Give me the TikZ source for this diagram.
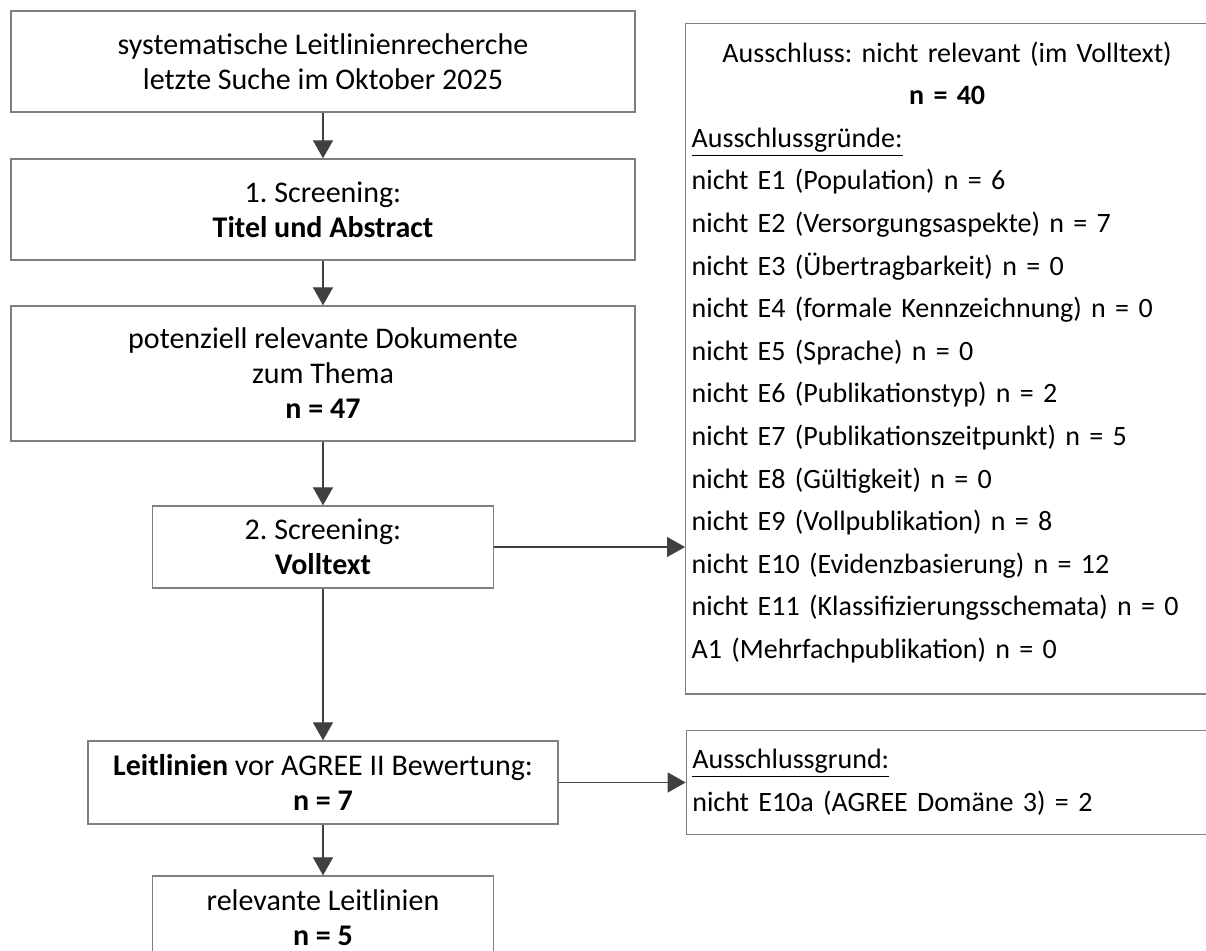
\documentclass[tikz,border=0pt]{standalone}
\usepackage{fontspec}
\setmainfont{Carlito}
\usetikzlibrary{shapes,arrows.meta,positioning}
\definecolor{boxgray}{HTML}{7F7F7F}
\definecolor{arrowgray}{HTML}{404040}
\tikzstyle{block} = [rectangle, draw=boxgray, line width=0.65pt,
    align=center, minimum width=312pt]
\tikzstyle{smallblock} = [rectangle, draw=boxgray, line width=0.65pt,
    align=center, minimum width=170.5pt, minimum height=41.5pt]
\tikzstyle{reasonbox} = [rectangle, draw=boxgray, line width=0.65pt,
    text width=255.5pt, inner xsep=3pt, font=\fontsize{14}{21.3}\selectfont]
\tikzstyle{line} = [draw=arrowgray, line width=0.65pt, -{Triangle[length=9pt,width=10pt]}]

\begin{document}
\frenchspacing
\begin{tikzpicture}[node distance = 70pt, font=\fontsize{15}{17.5}\selectfont]
    \useasboundingbox (-161.5pt,30.75pt) rectangle (441.5pt,-444.75pt);
    % Place nodes
    \node [block, minimum height=50.5pt] (init) {systematische Leitlinienrecherche\\letzte Suche im Oktober 2025};
    \node [block, below of=init, node distance=74pt, minimum height=50.5pt] (screen1) {1. Screening:\\\textbf{Titel und Abstract}};
    \node [block, below of=screen1, node distance=82pt, minimum height=67.5pt] (candidates) {potenziell relevante Dokumente\\zum Thema\\\textbf{n = 47}};
    \node [smallblock, below of=candidates, node distance=86.75pt, minimum height=41pt] (screen2) {2. Screening:\\\textbf{Volltext}};
    \node [smallblock, below of=screen2, node distance=117.75pt, minimum width=235pt] (agree) {\textbf{Leitlinien} vor AGREE II Bewertung:\\\textbf{n = 7}};
    \node [smallblock, below of=agree, node distance=67.5pt] (result) {relevante Leitlinien\\\textbf{n = 5}};
    % the exclusion boxes on the right
    \node [reasonbox, anchor=north west, inner ysep=9pt, text depth=307pt] (excluded) at (181pt,19.25pt) {%
        \centering Ausschluss: nicht relevant (im Volltext)\\\textbf{n = 40}\par
        \raggedright\underline{Ausschlussgründe:}\\
        nicht E1 (Population) n = 6\\
        nicht E2 (Versorgungsaspekte) n = 7\\
        nicht E3 (Übertragbarkeit) n = 0\\
        nicht E4 (formale Kennzeichnung) n = 0\\
        nicht E5 (Sprache) n = 0\\
        nicht E6 (Publikationstyp) n = 2\\
        nicht E7 (Publikationszeitpunkt) n = 5\\
        nicht E8 (Gültigkeit) n = 0\\
        nicht E9 (Vollpublikation) n = 8\\
        nicht E10 (Evidenzbasierung) n = 12\\
        nicht E11 (Klassifizierungsschemata) n = 0\\
        A1 (Mehrfachpublikation) n = 0};
    \node [reasonbox, align=left, minimum height=52pt, right=63.5pt of agree] (agreeexcl) {\underline{Ausschlussgrund:}\\nicht E10a (AGREE Domäne 3) = 2};
    % Draw edges
    \path [line] (init) -- (screen1);
    \path [line] (screen1) -- (candidates);
    \path [line] (candidates) -- (screen2);
    \path [line] (screen2) -- (agree);
    \path [line] (agree) -- (result);
    \path [line] (screen2) -- (screen2 -| excluded.west);
    \path [line] (agree) -- (agreeexcl);
\end{tikzpicture}
\end{document}
